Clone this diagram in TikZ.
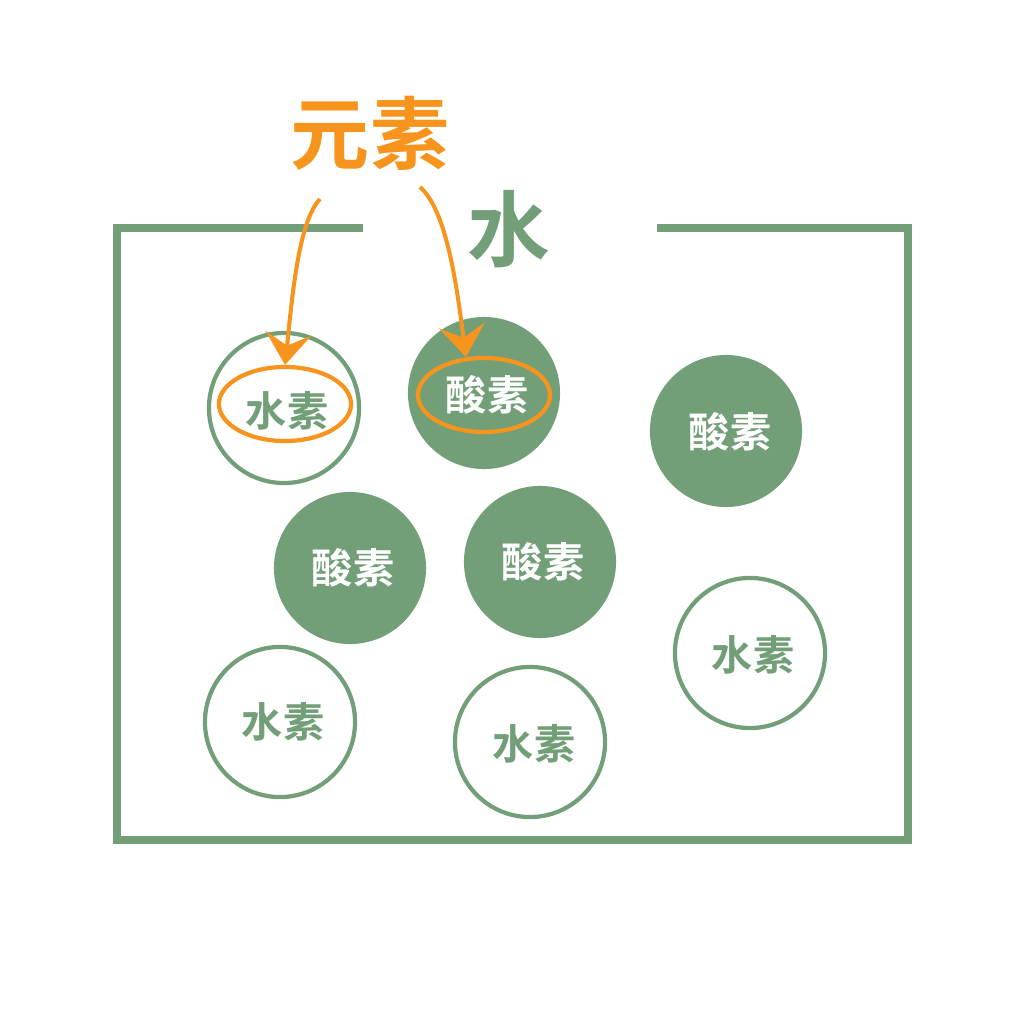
\documentclass[tikz,border=0pt]{standalone}
\usepackage{fontspec}
\usepackage{tikz}
\usetikzlibrary{arrows.meta,shapes.geometric}
\newfontfamily\cjk{Noto Sans CJK SC}[BoldFont={Noto Sans CJK SC Bold}]
\definecolor{leaf}{HTML}{739F78}
\definecolor{amber}{HTML}{F7941D}
\tikzset{
  hatom/.style={circle, draw=leaf, line width=1.2pt, fill=white, minimum size=1.5cm, inner sep=0pt},
  oatom/.style={circle, fill=leaf, minimum size=1.52cm, inner sep=0pt},
  hlabel/.style={font=\cjk\bfseries\fontsize{11.7}{12}\selectfont, text=leaf},
  olabel/.style={font=\cjk\bfseries\fontsize{11.7}{12}\selectfont, text=white},
  ring/.style={ellipse, draw=amber, line width=1.2pt, minimum width=1.32cm, minimum height=0.74cm, inner sep=0pt},
  pointer/.style={draw=amber, line width=1.15pt, -{Stealth[length=9pt,width=13pt,inset=3.5pt]}}
}
\begin{document}
\begin{tikzpicture}[x=0.01cm, y=-0.01cm]
\useasboundingbox (0,0) rectangle (1024,1024);
% box
\draw[leaf, line width=2pt] (363,228) -- (117,228) -- (117,840) -- (908,840) -- (908,228) -- (657,228);
\node[font=\cjk\bfseries\fontsize{23.5}{25}\selectfont, text=leaf] (water) at (509,229) {水};
\node[font=\cjk\bfseries\fontsize{22.5}{24}\selectfont, text=amber] (element) at (370,133) {元素};
% atoms
\node[hatom] (h1) at (284,408) {};
\node[oatom] (o1) at (484,393) {};
\node[oatom] (o2) at (726,431) {};
\node[oatom] (o3) at (350,568) {};
\node[oatom] (o4) at (540,562) {};
\node[hatom] (h2) at (750,653) {};
\node[hatom] (h3) at (280,722) {};
\node[hatom] (h4) at (530,742) {};
% labels
\node[hlabel] (t1) at (287,411) {水素};
\node[olabel] (t2) at (487,395) {酸素};
\node[olabel] (t3) at (730,432) {酸素};
\node[olabel] (t4) at (353,568) {酸素};
\node[olabel] (t5) at (543,562) {酸素};
\node[hlabel] (t6) at (753,655) {水素};
\node[hlabel] (t7) at (283,722) {水素};
\node[hlabel] (t8) at (534,744) {水素};
% rings and arrows
\node[ring] (r1) at (285,404) {};
\node[ring] (r2) at (484,395) {};
\coordinate (s1) at (320,199);
\coordinate (s2) at (420,187);
\coordinate (e2) at (466,357);
\draw[pointer] (s1) .. controls (298,222) and (292,300) .. (r1.north);
\draw[pointer] (s2) .. controls (446,210) and (456,280) .. (e2);
\end{tikzpicture}
\end{document}
